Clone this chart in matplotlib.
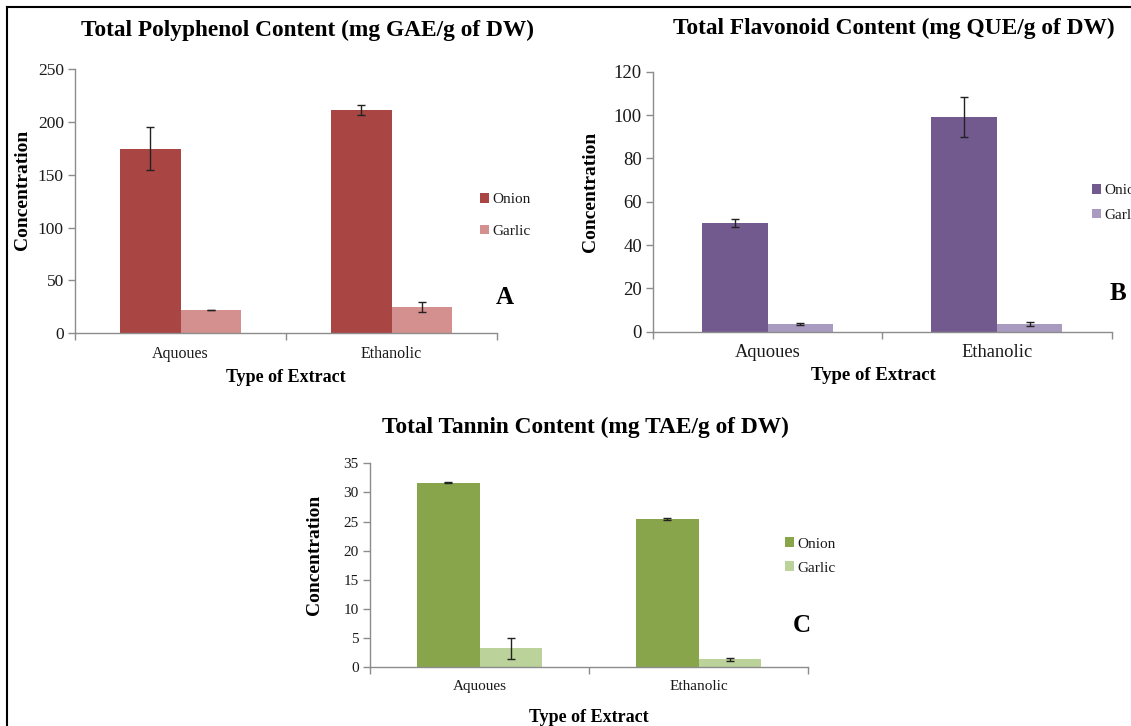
import matplotlib
matplotlib.use("Agg")
import matplotlib.pyplot as plt
from matplotlib.lines import Line2D
import numpy as np

plt.rcParams['font.family'] = ['Liberation Serif', 'DejaVu Serif']

categories = ["Aquoues", "Ethanolic"]
series = ["Onion", "Garlic"]

poly_onion = [174.5, 211.2]
poly_onion_err = [20.5, 4.8]
poly_garlic = [22.0, 24.9]
poly_garlic_err = [0.4, 4.3]

flav_onion = [50.0, 99.0]
flav_onion_err = [1.9, 9.1]
flav_garlic = [3.5, 3.5]
flav_garlic_err = [0.3, 0.9]

tan_onion = [31.7, 25.4]
tan_onion_err = [0.1, 0.2]
tan_garlic = [3.25, 1.37]
tan_garlic_err = [1.85, 0.3]

W, H = 1131, 726
fig = plt.figure(figsize=(W / 100, H / 100), dpi=100)


def fx(x):
    return x / W


def fy(y):
    return 1 - y / H


def make_axes(l, r, t, b):
    return fig.add_axes([fx(l), fy(b), fx(r - l), (b - t) / H])


AX_COL = "#8C8C8C"
TXT = "#1a1a1a"


def panel(ax, onion, onion_err, garlic, garlic_err, ymax, ystep, c_on, c_ga,
          tick_fs, cat_fs):
    x = np.arange(len(categories))
    w = 0.2857
    ax.bar(x - w / 2, onion, w, color=c_on, label=series[0], zorder=2)
    ax.bar(x + w / 2, garlic, w, color=c_ga, label=series[1], zorder=2)
    ax.errorbar(x - w / 2, onion, yerr=onion_err, fmt='none', ecolor="#222222",
                elinewidth=1, capsize=3, capthick=1, zorder=3)
    ax.errorbar(x + w / 2, garlic, yerr=garlic_err, fmt='none', ecolor="#222222",
                elinewidth=1, capsize=3, capthick=1, zorder=3)
    ax.set_xlim(-0.5, len(categories) - 0.5)
    ax.set_ylim(0, ymax)
    ax.set_yticks(np.arange(0, ymax + 0.001, ystep))
    ax.set_xticks(x)
    ax.set_xticklabels(categories, fontsize=cat_fs, color=TXT)
    ax.set_xticks(np.arange(-0.5, len(categories)), minor=True)
    ax.tick_params(axis='x', which='major', length=0, pad=9)
    ax.tick_params(axis='x', which='minor', length=5, color=AX_COL, width=1)
    ax.tick_params(axis='y', length=5, color=AX_COL, width=1, labelsize=tick_fs,
                   labelcolor=TXT, pad=3)
    for s in ['top', 'right']:
        ax.spines[s].set_visible(False)
    for s in ['left', 'bottom']:
        ax.spines[s].set_color(AX_COL)
        ax.spines[s].set_linewidth(1)
    ax.set_facecolor('none')


# Panel A
axA = make_axes(75, 497, 69, 333.3)
panel(axA, poly_onion, poly_onion_err, poly_garlic, poly_garlic_err, 250, 50,
      "#A94543", "#D4908E", 12.5, 11.5)
# Panel B
axB = make_axes(653, 1111.6, 71.7, 331.7)
panel(axB, flav_onion, flav_onion_err, flav_garlic, flav_garlic_err, 120, 20,
      "#725A8E", "#A89BBF", 13.5, 13.3)
# Panel C
axC = make_axes(370, 808, 463.3, 667.3)
panel(axC, tan_onion, tan_onion_err, tan_garlic, tan_garlic_err, 35, 5,
      "#88A54C", "#BBD29A", 11, 11)

# Titles
fig.text(fx(307), fy(30), "Total Polyphenol Content (mg GAE/g of DW)",
         ha='center', va='center', fontsize=16.8, fontweight='bold', color='black')
fig.text(fx(894), fy(28), "Total Flavonoid Content (mg QUE/g of DW)",
         ha='center', va='center', fontsize=16.8, fontweight='bold', color='black')
fig.text(fx(585), fy(427), "Total Tannin Content (mg TAE/g of DW)",
         ha='center', va='center', fontsize=16.8, fontweight='bold', color='black')

# Axis labels
for (x, y) in [(22, 190), (590, 192), (315, 555)]:
    fig.text(fx(x), fy(y), "Concentration", rotation=90, ha='center',
             va='center', fontsize=14, fontweight='bold', color='black')
for (x, y, fs) in [(286, 377, 13), (873, 376, 13.5), (589, 718, 13)]:
    fig.text(fx(x), fy(y), "Type of Extract", ha='center', va='center',
             fontsize=fs, fontweight='bold', color='black')

# Panel letters
for (x, y, s) in [(504.5, 298, "A"), (1118, 293, "B"), (802, 625, "C")]:
    fig.text(fx(x), fy(y), s, ha='center', va='center', fontsize=18,
             fontweight='bold', color='black')

# Legends
def add_legend(ax, xl, ymid, fs, spacing):
    leg = ax.legend(loc='center left', bbox_to_anchor=(fx(xl), fy(ymid)),
                    bbox_transform=fig.transFigure, frameon=False, fontsize=fs,
                    handlelength=0.6, handleheight=0.6, handletextpad=0.2,
                    labelspacing=spacing, borderpad=0, borderaxespad=0)
    for t in leg.get_texts():
        t.set_color(TXT)
    return leg

add_legend(axA, 480, 215.5, 11, 1.2)
add_legend(axB, 1092, 203, 11, 0.75)
add_legend(axC, 785, 556, 11, 0.7)

# Figure border (left and top)
fig.add_artist(Line2D([fx(7), fx(7)], [fy(7), 0], transform=fig.transFigure,
                      color='black', linewidth=1.5))
fig.add_artist(Line2D([fx(7), 1], [fy(7), fy(7)], transform=fig.transFigure,
                      color='black', linewidth=1.5))

fig.savefig("out.png", dpi=100)
